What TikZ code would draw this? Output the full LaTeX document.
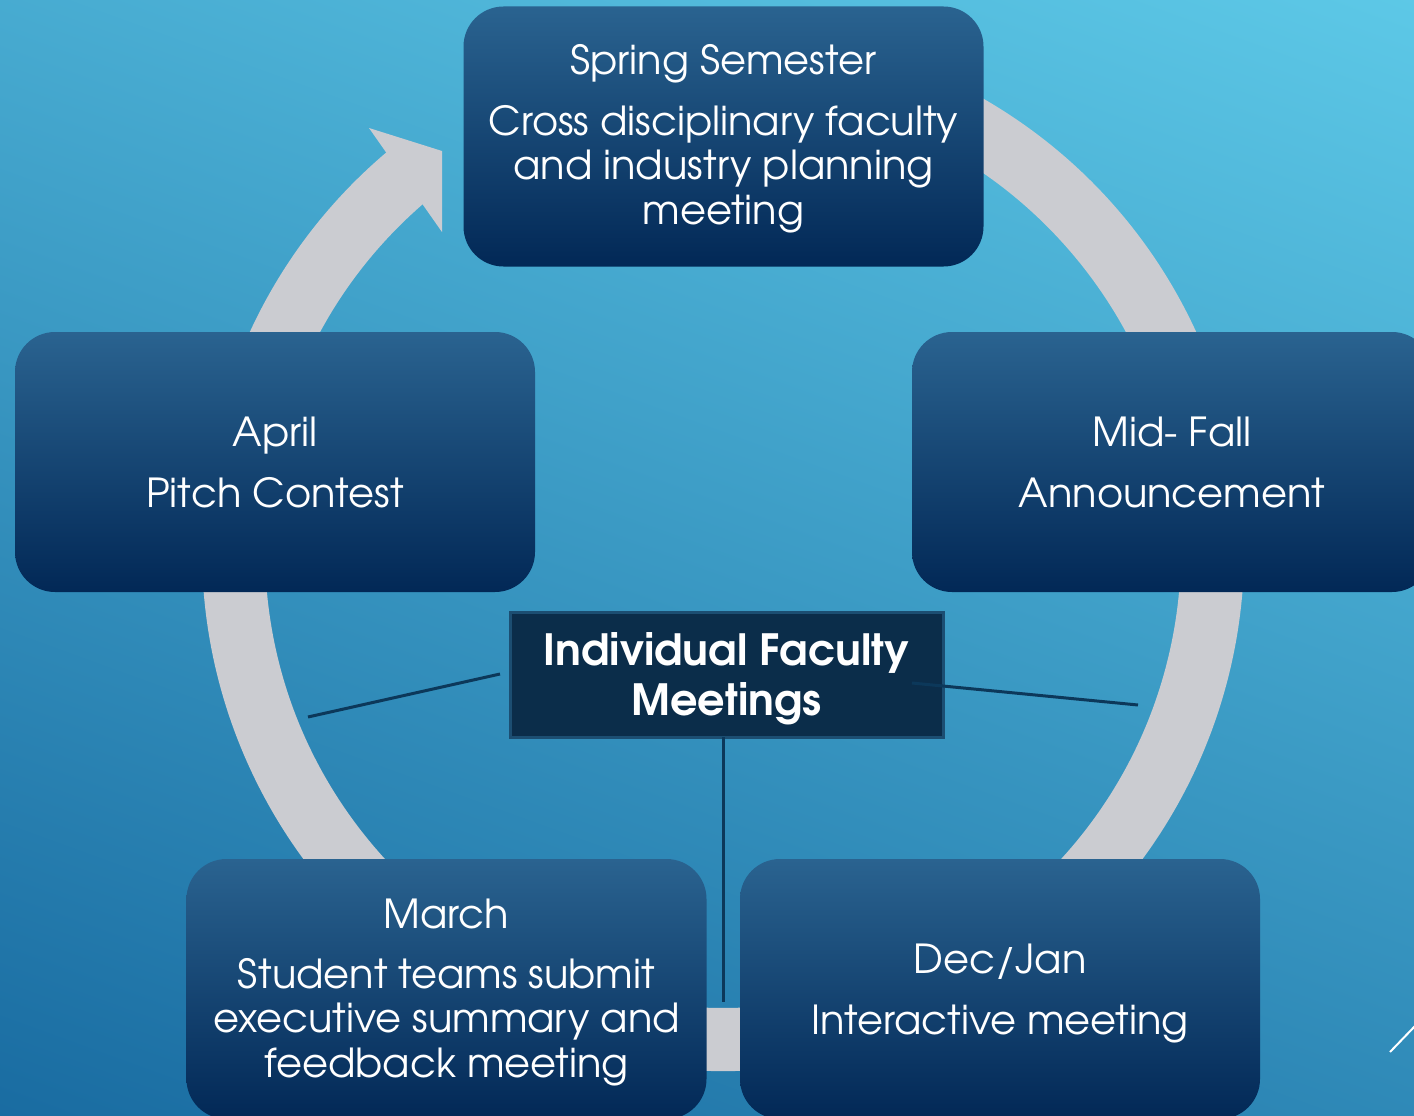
\documentclass[tikz,border=0pt]{standalone}
\usepackage{fontspec}
\setmainfont{TeX Gyre Adventor}
\usetikzlibrary{calc}
\definecolor{bglight}{RGB}{94,202,232}
\definecolor{bgdark}{RGB}{24,106,160}
\definecolor{ringgray}{RGB}{203,204,209}
\definecolor{cardtop}{RGB}{42,99,144}
\definecolor{cardbot}{RGB}{2,40,86}
\definecolor{hubfill}{RGB}{11,45,74}
\definecolor{hubedge}{RGB}{28,78,114}
\definecolor{linkcol}{RGB}{12,56,90}
\tikzset{
  card/.style={rounded corners=40pt, minimum width=520pt, minimum height=260pt,
    top color=cardtop, bottom color=cardbot, text=white, align=center,
    inner sep=0pt, font=\fontsize{40}{44.5}\selectfont},
  hubbox/.style={fill=hubfill, draw=hubedge, line width=3pt, minimum width=433pt,
    minimum height=125pt, text=white, align=center, inner sep=0pt,
    font=\bfseries\fontsize{43}{50}\selectfont},
  link/.style={draw=linkcol, line width=3pt},
}
\begin{document}
\begin{tikzpicture}[x=1pt,y=1pt]
  \clip (0,0) rectangle (1414,-1116);
  % backdrop
  \shade[shading=axis, top color=bglight, bottom color=bgdark, shading angle=-20]
    (-200,200) rectangle (1614,-1316);
  % cycle ring with its arrowhead
  \coordinate (C) at (723,-550);
  \fill[ringgray] ($(C)+(112:521)$) arc[start angle=112, end angle=-230.2, radius=521]
    -- ($(C)+(-229.5:458)$) arc[start angle=-229.5, end angle=112, radius=458] -- cycle;
  \fill[ringgray] (369,-128) -- (442,-151) -- (442,-232) -- cycle;
  % stage cards
  \node[card] (spring) at (723.5,-136.5) {\rule{0pt}{34pt}Spring Semester\\[16.5pt]Cross disciplinary faculty\\and industry planning\\meeting};
  \node[card] (fall) at (1172,-462) {Mid- Fall\\[16.5pt]Announcement};
  \node[card] (decjan) at (1000,-989) {\rule{0pt}{38pt}Dec/Jan\\[16.5pt]Interactive meeting};
  \node[card] (march) at (446.5,-989) {\rule{0pt}{36pt}March\\[15.5pt]Student teams submit\\executive summary and\\feedback meeting};
  \node[card] (april) at (275,-462) {April\\[16.5pt]Pitch Contest};
  % central hub and its spokes
  \node[hubbox] (hub) at (726.5,-674.5) {\rule{0pt}{42pt}Individual Faculty\\Meetings};
  \coordinate (lstart) at (500,-674);
  \coordinate (lend) at (308,-717);
  \coordinate (rstart) at (912,-683);
  \coordinate (rend) at (1138,-705);
  \coordinate (dstart) at (723,-737);
  \coordinate (dend) at (723,-1002);
  \draw[link] (lstart) -- (lend);
  \draw[link] (rstart) -- (rend);
  \draw[link] (dstart) -- (dend);
  % corner accent
  \coordinate (acc1) at (1390,-1052);
  \coordinate (acc2) at (1416,-1025);
  \draw[white, line width=2pt] (acc1) -- (acc2);
\end{tikzpicture}
\end{document}
